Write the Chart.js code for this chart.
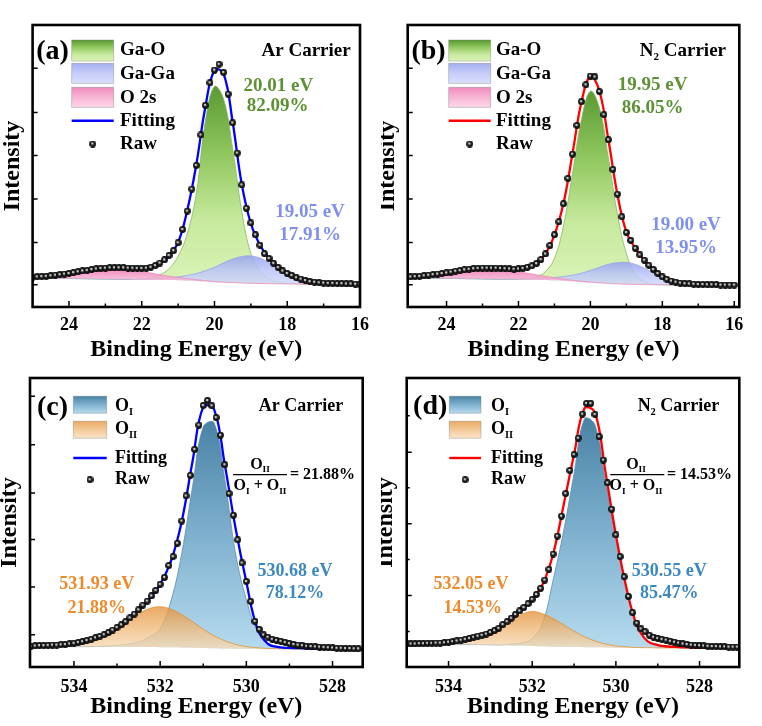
<!DOCTYPE html>
<html>
<head>
<meta charset="utf-8">
<script src="https://cdn.jsdelivr.net/npm/chart.js@4.4.1/dist/chart.umd.min.js"></script>
<style>
  html, body { margin: 0; background: #fff; }
  #fig { position: relative; width: 762px; height: 726px; overflow: hidden; }
  #fig canvas { position: absolute; }
</style>
</head>
<body>
<div id="fig">
  <canvas id="pa" width="381" height="363" style="left:0;top:0"></canvas>
  <canvas id="pb" width="381" height="363" style="left:381px;top:0"></canvas>
  <canvas id="pc" width="381" height="363" style="left:0;top:363px"></canvas>
  <canvas id="pd" width="381" height="363" style="left:381px;top:363px"></canvas>
</div>
<script>
// ---- Ga 3d region (a, b) ----
// raw spectrum energies (eV)
const gaRawE = [
  25, 24.875, 24.75, 24.625, 24.5, 24.375, 24.25, 24.125,
  24, 23.875, 23.75, 23.625, 23.5, 23.375, 23.25, 23.125,
  23, 22.875, 22.75, 22.625, 22.5, 22.375, 22.25, 22.125,
  22, 21.875, 21.75, 21.625, 21.5, 21.375, 21.25, 21.125,
  21, 20.875, 20.75, 20.625, 20.5, 20.375, 20.25, 20.125,
  20, 19.875, 19.75, 19.625, 19.5, 19.375, 19.25, 19.125,
  19, 18.875, 18.75, 18.625, 18.5, 18.375, 18.25, 18.125,
  18, 17.875, 17.75, 17.625, 17.5, 17.375, 17.25, 17.125,
  17, 16.875, 16.75, 16.625, 16.5, 16.375, 16.25, 16.125,
  16
];
const rawA = [
  10.6, 10.7, 10.8, 10.9, 11.1, 11.3, 11.5, 11.7,
  11.9, 12.2, 12.5, 12.8, 13.0, 13.3, 13.5, 13.7,
  13.8, 13.9, 13.9, 13.9, 13.9, 13.8, 13.8, 13.7,
  13.7, 13.8, 14.1, 14.7, 15.6, 16.7, 18.3, 20.0,
  22.8, 27.5, 34.0, 41.8, 50.2, 61.0, 71.5, 79.5,
  84.0, 86.1, 83.2, 75.5, 65.3, 54.6, 43.3, 35.0,
  29.8, 25.6, 21.9, 18.9, 17.2, 15.5, 14.0, 12.8,
  11.9, 11.2, 10.4, 9.9, 9.4, 9.0, 8.8, 8.6,
  8.5, 8.4, 8.4, 8.3, 8.3, 8.2, 8.2, 8.1,
  8.1
];
const rawB = [
  10.7, 10.8, 10.9, 11.1, 11.3, 11.5, 11.7, 11.9,
  12.1, 12.4, 12.7, 12.9, 13.2, 13.4, 13.6, 13.7,
  13.8, 13.8, 13.8, 13.8, 13.7, 13.6, 13.5, 13.4,
  13.5, 13.7, 14.1, 14.6, 15.4, 16.8, 18.8, 21.8,
  25.6, 30.2, 36.6, 45.6, 54.2, 64.4, 72.8, 78.8,
  81.9, 81.6, 76.4, 68.2, 59.3, 48.8, 40.0, 32.0,
  26.4, 23.6, 20.8, 18.5, 16.6, 14.8, 13.3, 11.9,
  10.7, 9.8, 9.2, 8.8, 8.5, 8.3, 8.2, 8.1,
  8.0, 8.0, 7.9, 7.9, 7.9, 7.8, 7.8, 7.8,
  7.8
];

// fitted curves, energies (eV)
const gaE = [
  25, 24.75, 24.5, 24.25,
  24, 23.75, 23.5, 23.25,
  23, 22.75, 22.5, 22.25,
  22, 21.75, 21.5, 21.25,
  21, 20.75, 20.5, 20.25,
  20, 19.75, 19.5, 19.25,
  19, 18.75, 18.5, 18.25,
  18, 17.75, 17.5, 17.25,
  17, 16.75, 16.5, 16.25,
  16
];
const fitA = [
  10.6, 10.8, 11.1, 11.5,
  11.9, 12.5, 13.0, 13.5,
  13.8, 13.9, 13.9, 13.8,
  13.7, 14.1, 15.5, 18.2,
  22.9, 34.2, 50.5, 71.0,
  84.0, 82.8, 65.5, 43.5,
  29.6, 22.0, 17.3, 14.0,
  11.9, 10.4, 9.4, 8.8,
  8.5, 8.4, 8.3, 8.2,
  8.1
];
const baseA = [
  10.25, 10.25, 10.2, 10.15,
  10.1, 10.05, 10.0, 9.95,
  9.9, 9.85, 9.8, 9.75,
  9.7, 9.65, 9.6, 9.55,
  9.5, 9.4, 9.25, 9.1,
  8.9, 8.75, 8.6, 8.5,
  8.4, 8.35, 8.3, 8.25,
  8.2, 8.15, 8.1, 8.1,
  8.05, 8.05, 8.0, 8.0,
  8.0
];
// component heights above the background
const gaOA = [
  0, 0, 0, 0,
  0, 0, 0, 0,
  0, 0, 0, 0.1,
  0.3, 0.7, 1.8, 4.0,
  8.5, 16.5, 31.0, 57.0,
  69.3, 65.0, 47.5, 25.5,
  10.5, 4.5, 1.6, 0.6,
  0.2, 0.1, 0, 0,
  0, 0, 0, 0,
  0
];
const gaGaA = [
  0, 0, 0, 0,
  0, 0, 0, 0,
  0, 0, 0, 0.1,
  0.2, 0.3, 0.5, 0.8,
  1.2, 1.8, 2.6, 3.8,
  5.2, 6.9, 8.4, 9.4,
  9.7, 9.0, 7.3, 5.0,
  2.9, 1.5, 0.7, 0.3,
  0.1, 0, 0, 0,
  0
];
const o2sA = [
  0.33, 0.53, 0.83, 1.21,
  1.67, 2.18, 2.69, 3.14,
  3.46, 3.6, 3.53, 3.28,
  2.88, 2.39, 1.87, 1.38,
  0.97, 0.64, 0.4, 0.24,
  0.13, 0.07, 0.03, 0.01,
  0, 0, 0, 0,
  0, 0, 0, 0,
  0, 0, 0, 0,
  0
];
const fitB = [
  10.7, 10.9, 11.3, 11.7,
  12.1, 12.7, 13.2, 13.6,
  13.8, 13.8, 13.7, 13.5,
  13.5, 14.1, 15.4, 18.8,
  25.4, 36.6, 54.2, 72.6,
  81.8, 76.6, 59.3, 40.0,
  26.6, 20.8, 16.6, 13.3,
  10.7, 9.2, 8.5, 8.2,
  8.0, 7.9, 7.9, 7.8,
  7.8
];
const baseB = [
  10.3, 10.3, 10.25, 10.2,
  10.15, 10.1, 10.05, 10.0,
  9.95, 9.9, 9.85, 9.8,
  9.75, 9.7, 9.65, 9.55,
  9.45, 9.3, 9.1, 8.9,
  8.7, 8.5, 8.35, 8.2,
  8.1, 8.0, 7.95, 7.9,
  7.85, 7.8, 7.8, 7.75,
  7.75, 7.7, 7.7, 7.7,
  7.7
];
const gaOB = [
  0, 0, 0, 0,
  0, 0, 0, 0,
  0, 0, 0, 0,
  0.1, 0.3, 1.0, 3.0,
  7.8, 19.5, 38.0, 57.5,
  67.8, 62.2, 44.5, 24.8,
  10.8, 3.6, 1.0, 0.3,
  0.1, 0, 0, 0,
  0, 0, 0, 0,
  0
];
const gaGaB = [
  0, 0, 0, 0,
  0, 0, 0, 0,
  0, 0, 0, 0.1,
  0.2, 0.3, 0.5, 0.7,
  1.0, 1.5, 2.2, 3.1,
  4.3, 5.6, 6.8, 7.5,
  7.7, 7.1, 5.8, 4.0,
  2.3, 1.2, 0.5, 0.2,
  0.1, 0, 0, 0,
  0
];
const o2sB = [
  0.31, 0.5, 0.79, 1.15,
  1.59, 2.07, 2.56, 2.98,
  3.29, 3.42, 3.35, 3.12,
  2.74, 2.27, 1.78, 1.31,
  0.92, 0.61, 0.38, 0.23,
  0.12, 0.07, 0.03, 0.01,
  0, 0, 0, 0,
  0, 0, 0, 0,
  0, 0, 0, 0,
  0
];

// ---- O 1s region (c, d) ----
const oRawE = [
  535.0, 534.9, 534.8, 534.7, 534.6, 534.5, 534.4, 534.3, 534.2, 534.1,
  534.0, 533.9, 533.8, 533.7, 533.6, 533.5, 533.4, 533.3, 533.2, 533.1,
  533.0, 532.9, 532.8, 532.7, 532.6, 532.5, 532.4, 532.3, 532.2, 532.1,
  532.0, 531.9, 531.8, 531.7, 531.6, 531.5, 531.4, 531.3, 531.2, 531.1,
  531.0, 530.9, 530.8, 530.7, 530.6, 530.5, 530.4, 530.3, 530.2, 530.1,
  530.0, 529.9, 529.8, 529.7, 529.6, 529.5, 529.4, 529.3, 529.2, 529.1,
  529.0, 528.9, 528.8, 528.7, 528.6, 528.5, 528.4, 528.3, 528.2, 528.1,
  528.0, 527.9, 527.8, 527.7, 527.6, 527.5, 527.4, 527.3, 527.2, 527.1
];
const rawC = [
  7.2, 7.3, 7.4, 7.4, 7.5, 7.6, 7.6, 7.7, 7.8, 8.0,
  8.2, 8.5, 8.8, 9.2, 9.6, 10.1, 10.6, 11.2, 11.9, 12.8,
  13.7, 14.6, 15.7, 17.0, 18.3, 19.8, 21.4, 22.8, 24.6, 26.5,
  28.6, 31.0, 35.1, 38.2, 42.8, 50.5, 59.2, 66.3, 75.3, 83.7,
  90.5, 92.2, 90.4, 86.3, 80.2, 70.0, 60.0, 52.5, 44.0, 36.0,
  29.6, 22.7, 15.8, 13.0, 11.1, 10.3, 9.6, 9.2, 8.9, 8.5,
  8.1, 7.8, 7.6, 7.4, 7.2, 7.1, 7.0, 6.9, 6.8, 6.7,
  6.6, 6.5, 6.5, 6.4, 6.4, 6.3, 6.3
];
const rawD = [
  8.0, 8.0, 8.0, 8.1, 8.1, 8.2, 8.2, 8.3, 8.3, 8.4,
  8.6, 8.8, 9.0, 9.3, 9.6, 9.9, 10.3, 10.7, 11.0, 11.4,
  12.0, 12.6, 13.4, 14.7, 15.7, 16.9, 18.2, 19.4, 20.6, 21.9,
  23.4, 25.1, 27.2, 30.1, 33.8, 39.1, 45.3, 52.2, 60.0, 68.0,
  73.5, 79.2, 87.5, 91.2, 91.2, 87.4, 79.7, 71.6, 63.7, 54.6,
  45.7, 38.2, 31.2, 24.4, 18.8, 15.2, 13.2, 12.2, 11.0, 10.3,
  9.9, 9.6, 9.3, 8.9, 8.6, 8.3, 8.0, 7.8, 7.6, 7.5,
  7.4, 7.3, 7.2, 7.1, 7.1, 7.0, 7.0, 6.9, 6.9, 6.9
];
const oE = [
  535, 534.75, 534.5, 534.25,
  534, 533.75, 533.5, 533.25,
  533, 532.75, 532.5, 532.25,
  532, 531.75, 531.5, 531.25,
  531, 530.75, 530.5, 530.25,
  530, 529.75, 529.5, 529.25,
  529, 528.75, 528.5, 528.25,
  528, 527.75, 527.5, 527.25,
  527
];
const fitC = [
  7.2, 7.4, 7.6, 7.75,
  8.2, 9.0, 10.1, 11.5,
  13.6, 16.3, 19.8, 23.7,
  28.6, 36.6, 50.3, 71.0,
  90.0, 89.2, 70.0, 48.0,
  29.4, 13.5, 8.0, 6.9,
  6.6, 6.5, 6.4, 6.35,
  6.3, 6.3, 6.25, 6.2,
  6.2
];
const baseC = [
  7.1, 7.1, 7.1, 7.05,
  7.05, 7.0, 7.0, 7.0,
  6.95, 6.95, 6.9, 6.9,
  6.85, 6.8, 6.75, 6.7,
  6.6, 6.5, 6.4, 6.35,
  6.3, 6.3, 6.25, 6.25,
  6.2, 6.2, 6.2, 6.2,
  6.2, 6.15, 6.15, 6.15,
  6.15
];
const oIC = [
  0, 0, 0, 0,
  0, 0.05, 0.1, 0.3,
  0.6, 1.0, 1.8, 3.5,
  6.5, 16.0, 32.5, 55.5,
  76.5, 78.0, 58.5, 33.0,
  17.0, 6.2, 2.0, 0.8,
  0.3, 0.1, 0, 0,
  0, 0, 0, 0,
  0
];
const oIIC = [
  0.03, 0.08, 0.2, 0.42,
  0.85, 1.6, 2.8, 4.5,
  6.6, 9.0, 11.5, 13.3,
  14.0, 13.2, 11.4, 9.0,
  6.5, 4.3, 2.7, 1.5,
  0.77, 0.36, 0.16, 0.06,
  0.02, 0, 0, 0,
  0, 0, 0, 0,
  0
];
const fitD = [
  8.0, 8.05, 8.2, 8.3,
  8.6, 9.1, 9.9, 10.9,
  12.0, 14.0, 16.9, 20.0,
  23.4, 28.6, 39.1, 56.0,
  73.5, 89.5, 88.0, 67.6,
  45.7, 27.5, 14.5, 9.0,
  7.6, 7.1, 6.9, 6.8,
  6.7, 6.7, 6.65, 6.6,
  6.6
];
const baseD = [
  7.9, 7.9, 7.9, 7.85,
  7.8, 7.75, 7.7, 7.65,
  7.6, 7.5, 7.45, 7.4,
  7.3, 7.2, 7.1, 7.0,
  6.9, 6.85, 6.8, 6.75,
  6.7, 6.7, 6.65, 6.65,
  6.6, 6.6, 6.6, 6.6,
  6.6, 6.55, 6.55, 6.55,
  6.55
];
const oID = [
  0, 0, 0, 0,
  0, 0, 0.05, 0.1,
  0.1, 0.2, 0.5, 1.0,
  2.5, 8.0, 23.0, 40.0,
  60.0, 79.0, 77.0, 57.5,
  38.5, 20.5, 8.0, 2.5,
  0.9, 0.3, 0.1, 0,
  0, 0, 0, 0,
  0
];
const oIID = [
  0.02, 0.04, 0.1, 0.25,
  0.5, 1.0, 1.8, 3.0,
  4.6, 6.6, 8.8, 10.8,
  11.9, 11.2, 9.7, 7.6,
  5.5, 3.6, 2.2, 1.2,
  0.6, 0.28, 0.1, 0.04,
  0.01, 0, 0, 0,
  0, 0, 0, 0,
  0
];

// y tick marks (no labels on the intensity axis)
const yTicksGa = [7.9, 22.9, 38.3, 53.7, 69.0, 84.7];
const yTicksC = [11.2, 27.7, 44.1, 60.2, 76.9, 93.7];
const yTicksD = [24.7, 49.6, 74.3];
const yMinorD = [12.3, 37.2, 62.0, 86.9];

// ---- styling ----
const FONT = '"Liberation Serif", "Times New Roman", serif';
Chart.defaults.font.family = FONT;
Chart.defaults.color = '#000';

const FILLS = {
  gaO: ['#5a9a33', '#8fc65d', '#c6e99c', '#dcf4b8'],
  gaGa: ['rgba(150,162,240,0.85)', 'rgba(188,197,248,0.85)', 'rgba(212,218,251,0.85)'],
  o2s: ['rgba(238,118,178,0.85)', 'rgba(246,168,206,0.85)', 'rgba(252,208,229,0.85)'],
  oI: ['#4a83a5', '#7fb1cf', '#b6dbef'],
  oII: ['rgba(228,146,56,0.78)', 'rgba(240,186,122,0.78)', 'rgba(249,222,188,0.78)']
};
const C = { green: '#5c9134', lav: '#7f8ff0', orange: '#ee8a2a', blue: '#3c89c1' };

// shaded black sphere used for the raw data points
function makeBall(d) {
  const c = document.createElement('canvas');
  c.width = c.height = d;
  const g = c.getContext('2d');
  const r = d / 2;
  const grad = g.createRadialGradient(r * 0.85, r * 0.8, 0, r, r, r);
  grad.addColorStop(0, '#ffffff');
  grad.addColorStop(0.2, '#c8c8c8');
  grad.addColorStop(0.45, '#262626');
  grad.addColorStop(1, '#000000');
  g.fillStyle = grad;
  g.beginPath();
  g.arc(r, r, r - 0.1, 0, Math.PI * 2);
  g.fill();
  return c;
}
const ball = makeBall(7);

const pts = (E, v) => v.map((y, i) => ({ x: E[i], y }));
const onBase = (E, base, h) => h.map((y, i) => ({ x: E[i], y: base[i] + y }));

function vGrad(chart, stops, vTop, vBottom) {
  const { ctx, chartArea, scales } = chart;
  if (!chartArea) return stops[stops.length - 1];
  const y0 = scales.y.getPixelForValue(vTop);
  const y1 = scales.y.getPixelForValue(vBottom);
  const g = ctx.createLinearGradient(0, y0, 0, y1 + 1);
  stops.forEach((c, i) => g.addColorStop(i / (stops.length - 1), c));
  return g;
}

function area(E, base, h, key, edge, target) {
  const data = onBase(E, base, h);
  const top = Math.max(...data.map(p => p.y));
  const bottom = Math.min(...base);
  return {
    data, fill: target, tension: 0.4, pointRadius: 0,
    borderColor: edge, borderWidth: 0.8,
    backgroundColor: c => vGrad(c.chart, FILLS[key], top, bottom)
  };
}
function rawSet(E, v) {
  return { data: pts(E, v), showLine: false, pointStyle: ball, pointRadius: 3, pointBorderWidth: 0 };
}
function fitSet(E, v, color) {
  return { data: pts(E, v), borderColor: color, borderWidth: 2.3, pointRadius: 0, tension: 0.4, fill: false };
}
function baseSet(E, v) {
  return { data: pts(E, v), borderWidth: 0, borderColor: 'rgba(0,0,0,0)', pointRadius: 0, tension: 0.4, fill: false };
}

// dataset 0 is drawn on top, the background curve (last) is the fill target
function gaDatasets(raw, fit, base, gaO, gaGa, o2s, fitColor) {
  return [
    rawSet(gaRawE, raw),
    fitSet(gaE, fit, fitColor),
    area(gaE, base, o2s, 'o2s', '#ee8cbd', 5),
    area(gaE, base, gaGa, 'gaGa', '#97a4ee', 5),
    area(gaE, base, gaO, 'gaO', '#86b95c', 5),
    baseSet(gaE, base)
  ];
}
function oDatasets(raw, fit, base, oI, oII, fitColor) {
  return [
    rawSet(oRawE, raw),
    fitSet(oE, fit, fitColor),
    area(oE, base, oII, 'oII', '#e4922e', 4),
    area(oE, base, oI, 'oI', '#5b8fb0', 4),
    baseSet(oE, base)
  ];
}

// ---- text helpers ----
function rich(ctx, parts, x, y, size, align, color) {
  const sub = size * 0.58;
  const font = s => 'bold ' + s + 'px ' + FONT;
  let w = 0;
  for (const [t, s] of parts) { ctx.font = font(s ? sub : size); w += ctx.measureText(t).width; }
  let cx = align === 'center' ? x - w / 2 : align === 'right' ? x - w : x;
  ctx.fillStyle = color || '#000';
  ctx.textAlign = 'left';
  ctx.textBaseline = 'middle';
  for (const [t, s] of parts) {
    ctx.font = font(s ? sub : size);
    ctx.fillText(t, cx, s ? y + size * 0.32 : y);
    cx += ctx.measureText(t).width;
  }
}

function drawLegend(ctx, L) {
  L.items.forEach(it => {
    if (it.kind === 'box') {
      const top = it.y - it.h / 2;
      const g = ctx.createLinearGradient(0, top, 0, top + it.h);
      const st = FILLS[it.fill];
      st.forEach((c, i) => g.addColorStop(i / (st.length - 1), c));
      ctx.fillStyle = g;
      ctx.fillRect(L.sx, top, L.sw, it.h);
      ctx.strokeStyle = 'rgba(120,120,120,0.45)';
      ctx.lineWidth = 0.8;
      ctx.strokeRect(L.sx, top, L.sw, it.h);
    } else if (it.kind === 'line') {
      ctx.strokeStyle = it.color;
      ctx.lineWidth = 2.4;
      ctx.beginPath();
      ctx.moveTo(L.sx, it.y);
      ctx.lineTo(L.sx + L.sw, it.y);
      ctx.stroke();
    } else {
      ctx.drawImage(ball, L.sx + L.sw / 2 - ball.width / 2, it.y - ball.height / 2);
    }
    rich(ctx, it.text, L.tx, it.ty !== undefined ? it.ty : it.y, L.size, 'left', '#000');
  });
}

function drawFraction(ctx, f) {
  rich(ctx, [['O'], ['II', 1]], f.cx, f.y1, 16, 'center');
  ctx.strokeStyle = '#000';
  ctx.lineWidth = 1.2;
  ctx.beginPath();
  ctx.moveTo(f.x1, f.yb);
  ctx.lineTo(f.x2, f.yb);
  ctx.stroke();
  rich(ctx, [['O'], ['I', 1], [' + O'], ['II', 1]], f.cx, f.y2, 16, 'center');
  rich(ctx, [[f.eq]], f.x3, f.yb + 0.6, 16, 'left');
}

function decor(p) {
  return {
    id: 'decor' + p.id,
    afterDraw(chart) {
      const { ctx, chartArea: a, scales: { x, y } } = chart;
      ctx.save();
      // inward tick marks
      ctx.strokeStyle = '#000';
      ctx.lineWidth = 1.5;
      ctx.beginPath();
      x.ticks.forEach(t => {
        const px = x.getPixelForValue(t.value);
        ctx.moveTo(px, a.bottom); ctx.lineTo(px, a.bottom - 6);
      });
      for (let v = Math.ceil(x.min); v < x.max; v++) {
        if (v % 2 === 0 || v - x.min < 0.2 || x.max - v < 0.2) continue;
        const px = x.getPixelForValue(v);
        ctx.moveTo(px, a.bottom); ctx.lineTo(px, a.bottom - 3.5);
      }
      y.ticks.forEach(t => {
        const py = y.getPixelForValue(t.value);
        ctx.moveTo(a.left, py); ctx.lineTo(a.left + 5, py);
      });
      (p.yMinor || []).forEach(v => {
        const py = y.getPixelForValue(v);
        ctx.moveTo(a.left, py); ctx.lineTo(a.left + 3, py);
      });
      ctx.stroke();
      // frame
      ctx.lineWidth = 2.6;
      ctx.strokeRect(a.left, a.top, a.right - a.left, a.bottom - a.top);

      drawLegend(ctx, p.legend);
      p.labels.forEach(l => rich(ctx, l.parts, l.x, l.y, l.size, l.align || 'center', l.color));
      if (p.fraction) drawFraction(ctx, p.fraction);
      ctx.restore();
    }
  };
}

function gaLegend(sx, tx, fitColor) {
  return {
    sx, sw: 42, tx, size: 19,
    items: [
      { kind: 'box', fill: 'gaO', y: 50.5, h: 21, ty: 50, text: [['Ga-O']] },
      { kind: 'box', fill: 'gaGa', y: 73.3, h: 20, ty: 74, text: [['Ga-Ga']] },
      { kind: 'box', fill: 'o2s', y: 97.3, h: 20, ty: 98, text: [['O 2s']] },
      { kind: 'line', color: fitColor, y: 120.7, text: [['Fitting']] },
      { kind: 'dot', y: 144, text: [['Raw']] }
    ]
  };
}
function oLegend(sx, sw, tx, fitColor) {
  return {
    sx, sw, tx, size: 18,
    items: [
      { kind: 'box', fill: 'oI', y: 41.7, h: 17, ty: 43.3, text: [['O'], ['I', 1]] },
      { kind: 'box', fill: 'oII', y: 66.7, h: 17, ty: 66.7, text: [['O'], ['II', 1]] },
      { kind: 'line', color: fitColor, y: 95, text: [['Fitting']] },
      { kind: 'dot', y: 116.7, text: [['Raw']] }
    ]
  };
}

function makePanel(canvasId, p) {
  return new Chart(document.getElementById(canvasId), {
    type: 'line',
    data: { datasets: p.datasets },
    options: {
      responsive: false,
      animation: false,
      events: [],
      layout: { padding: { left: 0, top: p.top, right: p.right, bottom: 0 } },
      scales: {
        x: {
          type: 'linear', reverse: true, min: p.xMin, max: p.xMax,
          afterFit: s => { s.height = p.xH; },
          grid: { display: false },
          border: { display: false },
          ticks: {
            stepSize: 2, includeBounds: false, padding: p.tickPad, color: '#000',
            font: { size: 18, weight: 'bold' }
          },
          title: {
            display: true, text: 'Binding Energy (eV)', color: '#000',
            font: { size: 24, weight: 'bold', lineHeight: 0.6 },
            padding: { top: 0, bottom: p.xTitlePad }
          }
        },
        y: {
          min: 0, max: 100,
          afterFit: s => { s.width = p.yW; },
          afterBuildTicks: s => { s.ticks = p.yTicks.map(v => ({ value: v })); },
          grid: { display: false },
          border: { display: false },
          ticks: { display: false },
          title: {
            display: true, text: 'Intensity', color: '#000',
            font: { size: 24, weight: 'bold', lineHeight: 0.6 },
            padding: { top: p.yTitlePad, bottom: 0 }
          }
        }
      },
      plugins: { legend: { display: false }, tooltip: { enabled: false } }
    },
    plugins: [decor(p)]
  });
}

makePanel('pa', {
  id: 'a', top: 25, right: 21, yW: 32.6, xH: 56, xMin: 16, xMax: 25,
  tickPad: 0, xTitlePad: 5.8, yTitlePad: 6, yTicks: yTicksGa,
  datasets: gaDatasets(rawA, fitA, baseA, gaOA, gaGaA, o2sA, '#0000ff'),
  legend: gaLegend(71.7, 120, '#0000ff'),
  labels: [
    { parts: [['(a)']], x: 52.5, y: 51.5, size: 28 },
    { parts: [['Ar Carrier']], x: 350.7, y: 50.7, size: 19, align: 'right' },
    { parts: [['20.01 eV']], x: 278.3, y: 86, size: 19, color: C.green },
    { parts: [['82.09%']], x: 277.7, y: 106, size: 19, color: C.green },
    { parts: [['19.05 eV']], x: 310, y: 211.7, size: 19, color: C.lav },
    { parts: [['17.91%']], x: 310, y: 235, size: 19, color: C.lav }
  ]
});

makePanel('pb', {
  id: 'b', top: 25, right: 22.7, yW: 26.7, xH: 56, xMin: 15.86, xMax: 25.08,
  tickPad: 0, xTitlePad: 5.8, yTitlePad: 0, yTicks: yTicksGa,
  datasets: gaDatasets(rawB, fitB, baseB, gaOB, gaGaB, o2sB, '#ff0000'),
  legend: gaLegend(67.7, 115, '#ff0000'),
  labels: [
    { parts: [['(b)']], x: 47.5, y: 51.5, size: 28 },
    { parts: [['N'], ['2', 1], [' Carrier']], x: 345, y: 50.7, size: 19, align: 'right' },
    { parts: [['19.95 eV']], x: 271.7, y: 85, size: 19, color: C.green },
    { parts: [['86.05%']], x: 271.7, y: 108, size: 19, color: C.green },
    { parts: [['19.00 eV']], x: 305, y: 225, size: 19, color: C.lav },
    { parts: [['13.95%']], x: 305, y: 248, size: 19, color: C.lav }
  ]
});

makePanel('pc', {
  id: 'c', top: 15, right: 18.3, yW: 30, xH: 59, xMin: 527.3, xMax: 535.02,
  tickPad: 1.5, xTitlePad: 12.5, yTitlePad: 2.8, yTicks: yTicksC,
  datasets: oDatasets(rawC, fitC, baseC, oIC, oIIC, '#0000ff'),
  legend: oLegend(73.3, 33.4, 115, '#0000ff'),
  labels: [
    { parts: [['(c)']], x: 52.5, y: 45, size: 28 },
    { parts: [['Ar Carrier']], x: 343.3, y: 43.3, size: 18, align: 'right' },
    { parts: [['531.93 eV']], x: 96.7, y: 221.7, size: 18, color: C.orange },
    { parts: [['21.88%']], x: 96.7, y: 245, size: 18, color: C.orange },
    { parts: [['530.68 eV']], x: 295, y: 208.3, size: 18, color: C.blue },
    { parts: [['78.12%']], x: 295, y: 230, size: 18, color: C.blue }
  ],
  fraction: { cx: 260, y1: 101.7, y2: 123.3, x1: 233, x2: 287, yb: 111.7, x3: 290, eq: '= 21.88%' }
});

makePanel('pd', {
  id: 'd', top: 15, right: 22.7, yW: 25.7, xH: 59, xMin: 527.05, xMax: 535,
  tickPad: 1.5, xTitlePad: 12.5, yTitlePad: -2.2, yTicks: yTicksD, yMinor: yMinorD,
  datasets: oDatasets(rawD, fitD, baseD, oID, oIID, '#ff0000'),
  legend: oLegend(68.3, 31.7, 110, '#ff0000'),
  labels: [
    { parts: [['(d)']], x: 49.2, y: 43.3, size: 28 },
    { parts: [['N'], ['2', 1], [' Carrier']], x: 338.3, y: 43.3, size: 18, align: 'right' },
    { parts: [['532.05 eV']], x: 90, y: 221.7, size: 18, color: C.orange },
    { parts: [['14.53%']], x: 91.7, y: 245, size: 18, color: C.orange },
    { parts: [['530.55 eV']], x: 288.3, y: 208.3, size: 18, color: C.blue },
    { parts: [['85.47%']], x: 288.3, y: 230, size: 18, color: C.blue }
  ],
  fraction: { cx: 255, y1: 101.7, y2: 123.3, x1: 229.3, x2: 283.3, yb: 111.7, x3: 286, eq: '= 14.53%' }
});
</script>
</body>
</html>
